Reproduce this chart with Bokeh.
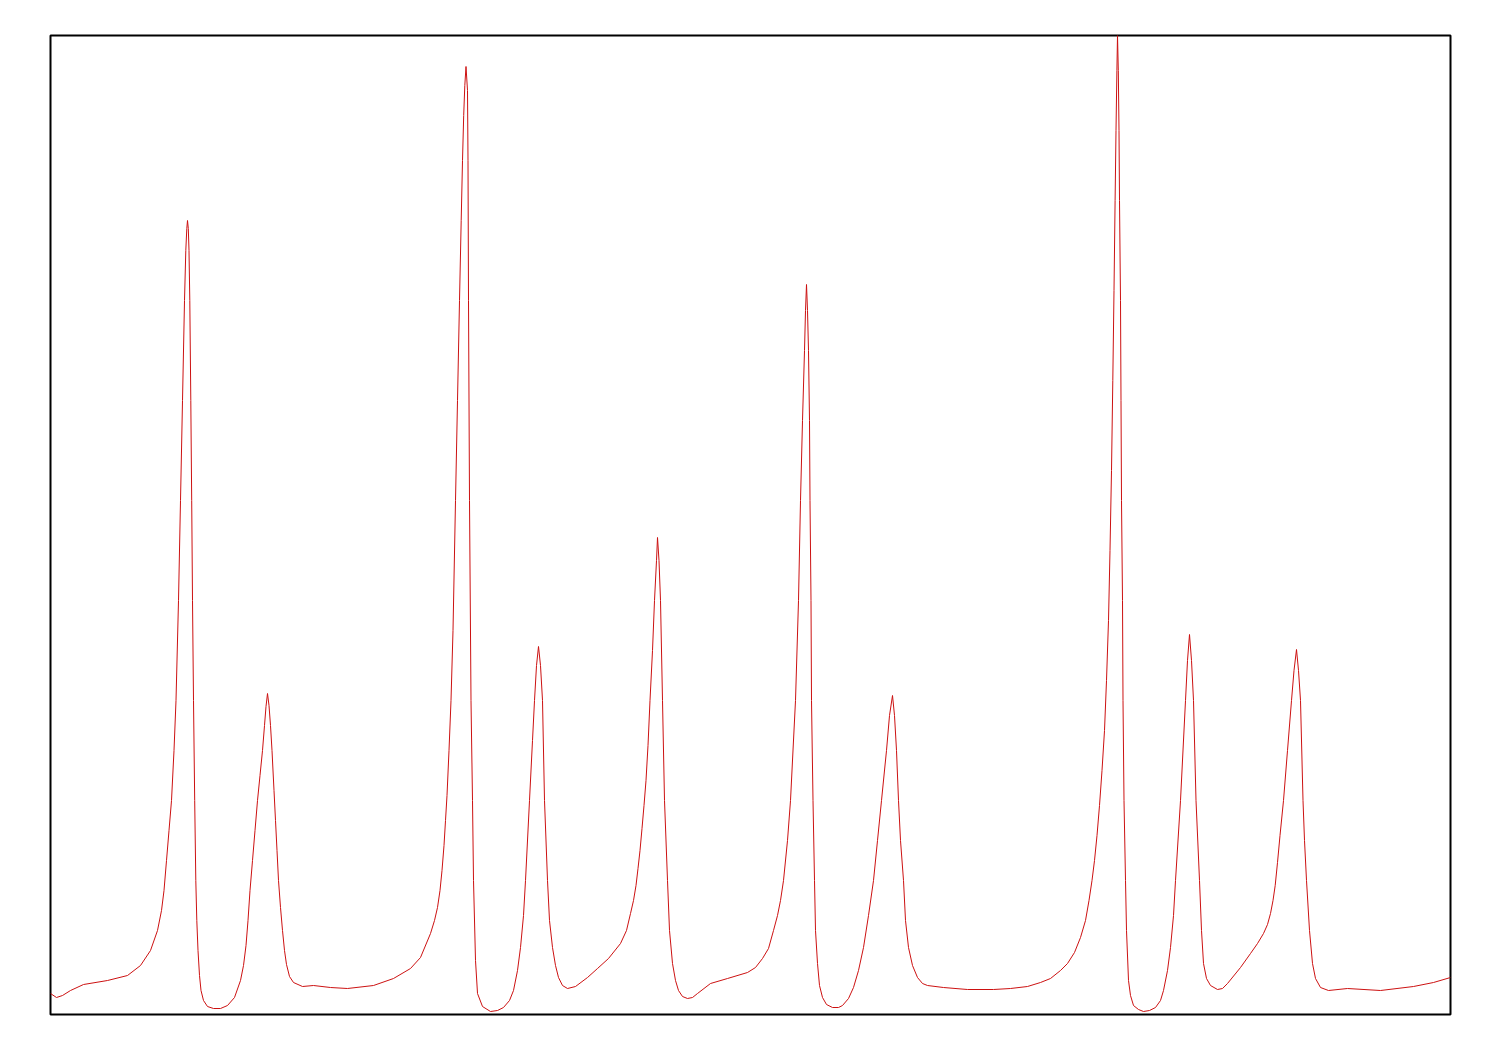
from bokeh.plotting import figure
from bokeh.models import Range1d
from bokeh.embed import file_html
from bokeh.resources import INLINE

# Spectrum trace (channel, intensity)
channel = [0, 6, 12, 20, 33, 57, 77, 90, 100, 107, 111, 113.5, 116, 118.5, 121, 123.5, 125.5, 128, 130, 132,
           134, 135.3, 136.3, 137, 137.8, 138.5, 139.3, 140.3, 141.2, 142, 143, 144.2, 145.3, 146.3, 147.5,
           149, 150.5, 153, 157, 163, 170, 177, 184,
           190, 193, 195.5, 197.5, 199.5, 202, 204.5, 207, 209.5, 212, 214, 215.5, 217, 218.5, 220, 221.5,
           223.5, 225, 226.5, 228, 230, 232, 234, 236, 239, 243,
           252, 263, 280, 297, 323,
           343, 360, 370, 380, 384, 387, 389.5, 391.5, 393.5, 395, 396.5, 398.5, 400.5, 402.5, 405, 407, 409,
           410.7, 412, 413.2, 414.3, 415.5,
           417, 417.5, 418, 419, 420.5, 422, 423, 425, 427, 432, 440, 447, 453, 459, 463, 467, 470, 473, 475,
           479, 482, 484, 486, 488, 490, 492, 494, 497, 499, 502, 505, 508, 512, 517, 525, 537, 547,
           558, 570, 576, 580, 583, 585.5, 587.5, 589.5, 591.5, 593.5, 595.5, 597.5, 599.5, 602, 604, 606, 607,
           608.5, 610, 612, 614, 617, 619, 622, 625, 628, 632, 637, 642, 647, 660, 677, 697, 705, 712, 718, 723,
           727, 730, 733, 737, 740, 745, 748, 750, 752, 754, 755, 756, 757, 758, 759, 759.5, 760.5, 761, 762.5,
           764, 765, 767, 769, 772, 776, 782, 788, 792, 798, 803, 808, 813, 818, 823, 827, 831, 836, 839, 842,
           844, 846, 848, 850, 853, 855, 858, 862, 867, 872, 877, 893, 917, 943, 960, 977, 990, 1000, 1010,
           1017, 1024,
           1030, 1035, 1038.5, 1041.5, 1044, 1046.5, 1049, 1051.5, 1054, 1056, 1058, 1059.5, 1061, 1062.3,
           1063.5, 1064.6, 1065.5, 1066.4, 1067,
           1067.8, 1068.5, 1069, 1070, 1070.5, 1071, 1072, 1072.5, 1073.5, 1075, 1076, 1078, 1080, 1083, 1088,
           1093, 1099, 1105, 1110, 1113, 1117, 1120, 1123, 1125, 1130, 1135, 1137, 1139, 1141, 1143, 1145.5,
           1149, 1151, 1153, 1156, 1160, 1167, 1172, 1177, 1190, 1200, 1207,
           1213, 1217, 1220, 1222.5, 1224.7, 1227, 1229.5, 1233, 1237, 1241, 1243.5, 1246,
           1248, 1250, 1252.5, 1254, 1256, 1259, 1262, 1265, 1270, 1278, 1297, 1330, 1363, 1383, 1400]
intensity = [21, 17, 19, 24, 30, 34, 39, 49, 64, 84, 104, 124, 154, 184, 214, 264, 314, 414, 514, 614,
             714, 764, 786, 794, 786, 764, 714, 614, 514, 414, 314, 214, 134, 94, 64,
             39, 24, 14, 8, 6, 6, 9, 17,
             34, 49, 69, 94, 124, 154, 184, 214, 239, 264, 289, 308, 321, 309, 289, 264,
             224, 194, 164, 134, 107, 84, 64, 50, 38, 32,
             28, 29, 27, 26, 29,
             36, 46, 57, 81, 94, 107, 124, 144, 169, 194, 219, 264, 314, 384, 514, 614, 714,
             794, 854, 899, 929, 948,
             924, 854, 714, 514, 314, 214, 134, 54, 21, 8, 3, 4, 7, 14, 24, 44, 67, 99, 134,
             214, 274, 314, 349, 368, 349, 314, 214, 134, 94, 67, 49, 37, 29, 26, 28, 37, 46,
             56, 71, 84, 101, 114, 129, 146, 164, 186, 209, 234, 269, 314, 364, 414, 454, 477,
             454, 414, 314, 214, 134, 84, 51, 34, 24, 18, 16, 17, 21, 31, 36, 42, 47, 56, 66, 84,
             99, 114, 134, 174, 214, 314, 414, 514, 594, 664, 704, 730, 704, 664, 594, 514, 414, 314, 214,
             134, 84, 51, 29, 17, 10, 7, 7, 9, 16, 27, 44, 67, 99, 134, 174, 214, 264, 299, 319,
             299, 264, 214, 174, 134, 94, 67, 49, 37, 31, 29, 27, 25, 25, 26, 28, 32, 36, 44,
             51, 62,
             77, 94, 114, 134, 154, 179, 209, 244, 284, 334, 394, 464, 544, 634,
             724, 814, 884, 944, 979,
             944, 884, 814, 714, 614, 514, 414, 314, 214, 134, 84, 34, 19, 9, 5,
             3, 4, 7, 14, 24, 44, 67, 99, 134, 214, 314, 354, 380, 354, 314, 214,
             134, 84, 51, 36, 29, 25, 26, 31, 47, 61, 71,
             81, 90, 101, 114, 129, 152, 179, 214, 264, 314, 344, 365,
             344, 314, 214, 174, 134, 84, 51, 36, 27, 24, 26, 24, 28, 32, 37]

p = figure(frame_width=1400, frame_height=979,
           min_border_left=50, min_border_right=34, min_border_top=35, min_border_bottom=20,
           x_range=Range1d(0, 1400), y_range=Range1d(0, 979),
           output_backend="svg", toolbar_location=None)
p.axis.visible = False
p.grid.visible = False
p.outline_line_color = "black"
p.outline_line_width = 2
p.outline_line_alpha = 1.0

p.line(channel, intensity, line_color="#cc1111", line_width=1)

open("out.html", "w").write(file_html(p, INLINE))
